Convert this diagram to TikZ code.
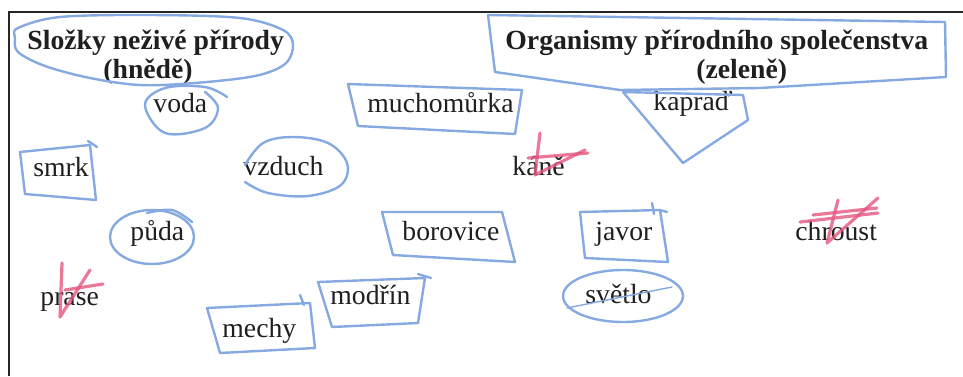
\documentclass[tikz,border=0pt]{standalone}
\usepackage{fontspec}
\setmainfont{Liberation Serif}
\usepackage{xcolor}
\usetikzlibrary{calc}
\definecolor{bluepen}{HTML}{86A9E2}
\definecolor{redpen}{HTML}{E5567E}
\tikzstyle{word} = [inner sep=0pt, anchor=base west, font=\fontsize{13.85}{15}\selectfont, text=black!88]
\tikzstyle{head} = [word, font=\fontsize{13.85}{15}\selectfont\bfseries]
\tikzstyle{pen} = [bluepen, line width=1.2pt, line join=round, line cap=round]
\tikzstyle{cross} = [redpen, opacity=0.8, line width=1.6pt, line cap=round, line join=round]

\begin{document}
\begin{tikzpicture}[x=0.5pt,y=-0.5pt]
	
	\useasboundingbox (0,0) rectangle (963,376);
	
	\coordinate (corner) at (9,12);
	\coordinate (sheetL) at (9,376);
	\coordinate (sheetR) at (963,12);
	\draw[line width=1.2pt, black!85] (sheetL) -- (corner) -- (sheetR);
	
	\coordinate (headA) at (27,49);
	\coordinate (headA2) at ($ (headA) + (76,29) $);
	\coordinate (headB) at (505,49);
	\coordinate (headB2) at ($ (headB) + (191,29) $);
	
	\coordinate (voda) at (153,112);
	\coordinate (mucho) at (367,112);
	\coordinate (kaprad) at (653,110);
	
	\coordinate (smrk) at (33,176);
	\coordinate (vzduch) at (243,175);
	\coordinate (kane) at (512,175);
	
	\coordinate (puda) at (130,240);
	\coordinate (borovice) at (402,240);
	\coordinate (javor) at (595,240);
	\coordinate (chroust) at (795,240);
	
	\coordinate (prase) at (40,305);
	\coordinate (modrin) at (330,304);
	\coordinate (svetlo) at (585,303);
	\coordinate (mechy) at (222,337);
	
	\node[head] (tHeadA) at (headA) {Složky neživé přírody};
	\node[head] (tHeadA2) at (headA2) {(hnědě)};
	\node[head] (tHeadB) at (headB) {Organismy přírodního společenstva};
	\node[head] (tHeadB2) at (headB2) {(zeleně)};
	
	\node[word] (tVoda) at (voda) {voda};
	\node[word] (tMucho) at (mucho) {muchomůrka};
	\node[word] (tKaprad) at (kaprad) {kapraď};
	\node[word] (tSmrk) at (smrk) {smrk};
	\node[word] (tVzduch) at (vzduch) {vzduch};
	\node[word] (tKane) at (kane) {káně};
	\node[word] (tPuda) at (puda) {půda};
	\node[word] (tBorovice) at (borovice) {borovice};
	\node[word] (tJavor) at (javor) {javor};
	\node[word] (tChroust) at (chroust) {chroust};
	\node[word] (tPrase) at (prase) {prase};
	\node[word] (tModrin) at (modrin) {modřín};
	\node[word] (tSvetlo) at (svetlo) {světlo};
	\node[word] (tMechy) at (mechy) {mechy};
	
	\newcommand{\WORDBOX}[5]{\draw[pen] ($ (#1) + (#2) $) -- ($ (#1) + (#3) $) -- ($ (#1) + (#4) $) -- ($ (#1) + (#5) $) -- cycle;}
	
	% blue loops round the headings
	\draw[pen] plot[smooth cycle, tension=0.55] coordinates {(18,28) (60,17) (150,15) (240,18) (283,30) (293,45) (285,64) (255,76) (195,83) (140,85) (90,78) (45,66) (18,52) (15,38)};
	\draw[pen] ($ (headB) + (-17,-34) $) -- ($ (headB) + (440,-27) $) -- ($ (headB) + (441,28) $) -- ($ (headB) + (255,39) $) -- ($ (headB) + (115,41) $) -- ($ (headB) + (-10,23) $) -- cycle;
	
	% green ones (boxes)
	\WORDBOX{mucho}{-19,-28}{155,-22}{148,22}{-9,14}
	\WORDBOX{smrk}{-13,-24}{57,-31}{63,24}{-8,18}
	\WORDBOX{borovice}{-20,-28}{100,-28}{113,22}{-9,15}
	\WORDBOX{javor}{-15,-28}{65,-30}{73,22}{-10,18}
	\WORDBOX{modrin}{-12,-22}{95,-26}{88,19}{2,23}
	\WORDBOX{mechy}{-15,-29}{88,-34}{93,11}{-2,16}
	\draw[pen] ($ (kaprad) + (-30,-18) $) -- ($ (kaprad) + (30,53) $) -- ($ (kaprad) + (95,10) $) -- ($ (kaprad) + (90,-15) $) -- cycle;
	
	% pen ticks at the corners
	\draw[pen] ($ (smrk) + (55,-35) $) -- ($ (smrk) + (64,-29) $);
	\draw[pen] ($ (javor) + (57,-37) $) -- ($ (javor) + (59,-26) $);
	\draw[pen] ($ (javor) + (65,-30) $) -- ($ (javor) + (72,-28) $);
	\draw[pen] ($ (modrin) + (88,-30) $) -- ($ (modrin) + (101,-26) $);
	\draw[pen] ($ (mechy) + (78,-42) $) -- ($ (mechy) + (82,-32) $);
	
	% brown ones (rings)
	\draw[pen] plot[smooth, tension=0.6] coordinates {(227,97) (205,87) (165,88) (145,105) (165,133) (205,128) (218,108) (205,92)};
	\draw[pen] plot[smooth, tension=0.6] coordinates {(245,165) (263,143) (293,137) (328,143) (347,163) (341,185) (308,196) (268,193) (245,182)};
	\draw[pen] ($ (puda) + (22,-3) $) ellipse [x radius=42, y radius=27];
	\draw[pen] plot[smooth, tension=0.6] coordinates {(147,213) (172,210) (192,222)};
	\draw[pen] ($ (svetlo) + (38,-7) $) ellipse [x radius=60, y radius=26];
	\draw[pen, line width=0.7pt] ($ (svetlo) + (-18,5) $) -- ($ (svetlo) + (87,-16) $);
	
	% red crosses
	\draw[cross] ($ (kane) + (28,-42) $) -- ($ (kane) + (23,0) $) -- ($ (kane) + (73,-25) $);
	\draw[cross] ($ (kane) + (16,-17) $) -- ($ (kane) + (76,-22) $);
	\draw[cross] ($ (prase) + (22,-42) $) -- ($ (prase) + (20,12) $) -- ($ (prase) + (50,-35) $);
	\draw[cross] ($ (prase) + (25,-15) $) -- ($ (prase) + (63,-21) $);
	\draw[cross] ($ (chroust) + (43,-40) $) -- ($ (chroust) + (32,3) $) -- ($ (chroust) + (83,-42) $);
	\draw[cross] ($ (chroust) + (5,-18) $) -- ($ (chroust) + (83,-27) $);
	\draw[cross] ($ (chroust) + (18,-25) $) -- ($ (chroust) + (82,-32) $);
	
\end{tikzpicture}
\end{document}
